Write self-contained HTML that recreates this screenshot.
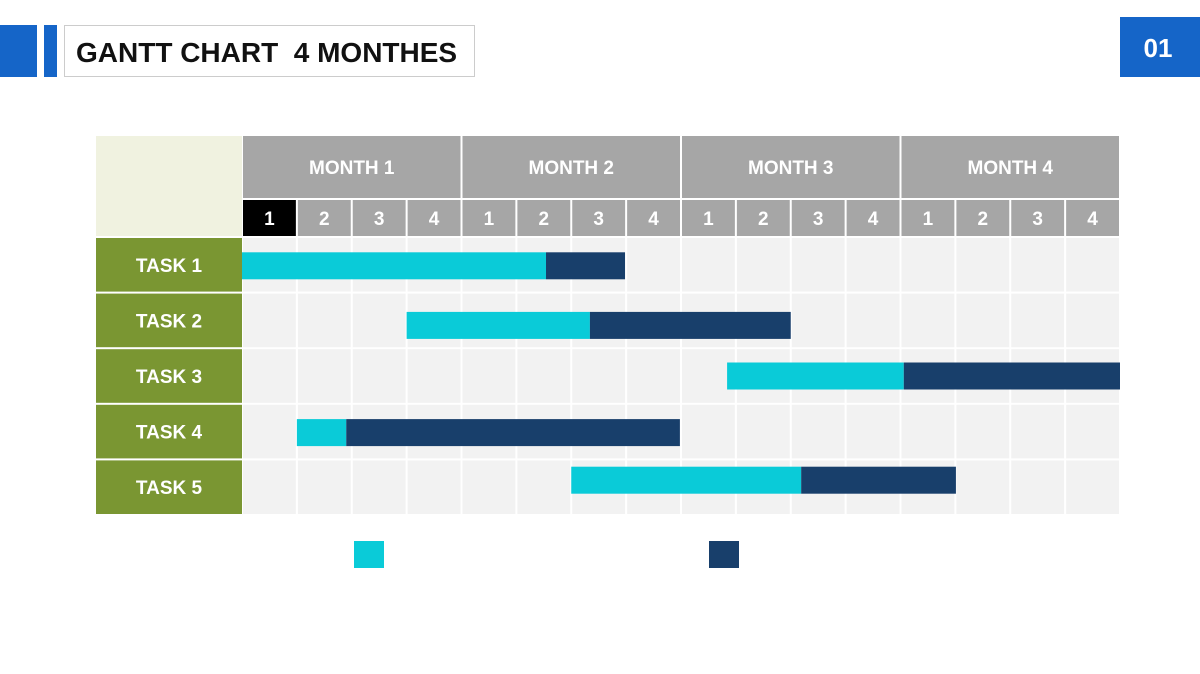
<!DOCTYPE html>
<html><head><meta charset="utf-8"><style>
body{margin:0;background:#fff;}
svg{display:block;font-family:"Liberation Sans",sans-serif;font-weight:bold;}
</style></head><body>
<svg id="chart" width="1200" height="674" viewBox="0 0 1200 674">
<rect x="0" y="25" width="37" height="52" fill="#1565c8"/>
<rect x="44" y="25" width="13" height="52" fill="#1565c8"/>
<rect x="64.5" y="25.5" width="410" height="51" fill="#fff" stroke="#ccc"/>
<text x="76" y="62" font-size="28" fill="#111" style="white-space:pre">GANTT CHART  4 MONTHES</text>
<rect x="1120" y="17" width="80" height="60" fill="#1565c8"/>
<text x="1158" y="57" font-size="26" fill="#fff" text-anchor="middle">01</text>
<rect x="96" y="136" width="146" height="100" fill="#f0f2e0"/>
<g id="grid"></g><g id="bars"></g>
<rect x="354" y="541" width="30" height="27" fill="#0acbd8"/>
<rect x="709" y="541" width="30" height="27" fill="#183f6b"/>
</svg>
<script>
const months=["MONTH 1","MONTH 2","MONTH 3","MONTH 4"];
const weeks=["1","2","3","4"];
const tasks=["TASK 1","TASK 2","TASK 3","TASK 4","TASK 5"];
const planStart=[0,3,8.84,1,6];
const planEnd=[5.54,6.34,12.06,1.9,10.19];
const actualEnd=[6.98,10,16,7.98,13.01];
const NS="http://www.w3.org/2000/svg";
const x0=242,x1=1120,nW=16,rowTop=237,rowH=55.6;
const barShift=[1,5,0,1,-7];
const xs=w=>x0+(x1-x0)*w/nW;
const ys=i=>rowTop+i*rowH;
function mk(t,a,p){const e=document.createElementNS(NS,t);for(const k in a)e.setAttribute(k,a[k]);p.appendChild(e);return e;}
const g=document.getElementById('grid'),b=document.getElementById('bars');
months.forEach((m,i)=>{
 const r=mk('rect',{x:xs(i*4)+1,y:136,width:xs(4)-x0-2,height:62,fill:'#a6a6a6'},g);
 
 const t=mk('text',{x:(xs(i*4)+xs(i*4+4))/2,y:174,'font-size':19,fill:'#fff','text-anchor':'middle'},g);
 t.textContent=m;
 weeks.forEach((w,j)=>{const k=i*4+j;
  const c=mk('rect',{x:xs(k)+1,y:200,width:xs(1)-x0-2,height:36,fill:k===0?'#000':'#a6a6a6'},g);
  
  const tt=mk('text',{x:(xs(k)+xs(k+1))/2,y:225,'font-size':19,fill:'#fff','text-anchor':'middle'},g);
  tt.textContent=w;
 });
});
tasks.forEach((tk,i)=>{
 const l=mk('rect',{x:96,y:ys(i)+1,width:146,height:rowH-2,fill:'#7a9632'},g);
 
 const t=mk('text',{x:169,y:ys(i)+rowH/2+7,'font-size':19,fill:'#fff','text-anchor':'middle'},g);
 t.textContent=tk;
 for(let k=0;k<nW;k++){const c=mk('rect',{x:xs(k)+1,y:ys(i)+1,width:xs(1)-x0-2,height:rowH-2,fill:'#f2f2f2'},g);
  }
 const by=ys(i)+rowH/2-13.5+barShift[i];
 const p=mk('rect',{x:xs(planStart[i]),y:by,width:xs(planEnd[i])-xs(planStart[i]),height:27,fill:'#0acbd8'},b);
 
 const a=mk('rect',{x:xs(planEnd[i]),y:by,width:xs(actualEnd[i])-xs(planEnd[i]),height:27,fill:'#183f6b'},b);
 
});
</script>
</body></html>
